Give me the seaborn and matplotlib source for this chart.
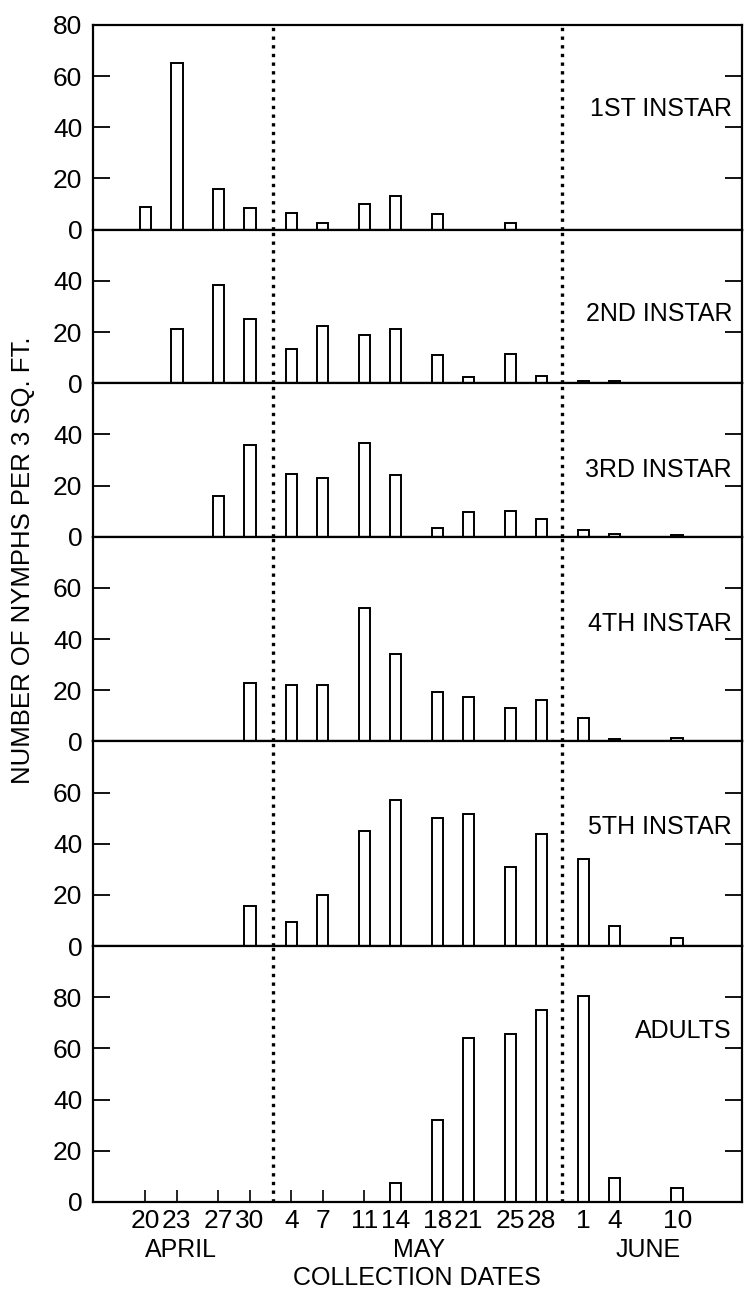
import numpy as np
import pandas as pd
import matplotlib
matplotlib.use('Agg')
import matplotlib.pyplot as plt
import seaborn as sns

# collection dates, counted in days from April 20
days = [0, 3, 7, 10, 14, 17, 21, 24, 28, 31, 35, 38, 42, 45, 51]
day_labels = ['20', '23', '27', '30', '4', '7', '11', '14', '18', '21', '25', '28', '1', '4', '10']

# nymphs per 3 sq. ft.
instar1 = [9, 65, 16, 8.5, 6.5, 2.5, 10, 13, 6, 0, 2.5, 0, 0, 0, 0]
instar2 = [0, 21, 38.5, 25, 13.5, 22.5, 19, 21, 11, 2.5, 11.5, 3, 1, 1, 0]
instar3 = [0, 0, 16, 36, 24.5, 23, 36.5, 24, 3.5, 9.5, 10, 7, 2.5, 1, 0.7]
instar4 = [0, 0, 0, 23, 22, 22, 52, 34, 19.5, 17.5, 13, 16, 9, 0.8, 1.5]
instar5 = [0, 0, 0, 15.5, 9.5, 20, 45, 57, 50, 51.5, 31, 44, 34, 8, 3]
adults = [0, 0, 0, 0, 0, 0, 0, 7.5, 32, 64, 65.5, 75, 80.5, 9.5, 5.5]

stages = ['1ST INSTAR', '2ND INSTAR', '3RD INSTAR', '4TH INSTAR', '5TH INSTAR', 'ADULTS']
series = [instar1, instar2, instar3, instar4, instar5, adults]
months = ['APRIL', 'MAY', 'JUNE']

df = pd.DataFrame({
    'day': days * len(stages),
    'count': np.concatenate(series),
    'stage': np.repeat(stages, len(days)),
})

# layout
ylims = [80, 60, 60, 80, 80, 100]
ytop_tick = [80, 40, 40, 60, 60, 80]
label_y = [47, 27, 26, 46, 46.5, 67]
month_x = [3.4, 26.2, 48.2]
month_lines = [12.2, 40.0]

sns.set_style('ticks', rc={'axes.edgecolor': 'black', 'text.color': 'black',
                           'xtick.color': 'black', 'ytick.color': 'black',
                           'axes.labelcolor': 'black'})
plt.rcParams['font.family'] = ['Liberation Sans', 'DejaVu Sans']

fig, axes = plt.subplots(len(stages), 1, figsize=(7.47, 12.93), dpi=100, sharex=True,
                         gridspec_kw={'height_ratios': ylims, 'hspace': 0})
fig.subplots_adjust(left=0.125, right=0.993, top=0.9807, bottom=0.0704)

for ax, stage, ymax, ytk, ly in zip(axes, stages, ylims, ytop_tick, label_y):
    sub = df[df['stage'] == stage]
    sns.barplot(data=sub, x='day', y='count', native_scale=True, width=0.37,
                color='white', saturation=1, edgecolor='black', linewidth=1.4,
                errorbar=None, ax=ax)
    for xv in month_lines:
        ax.axvline(xv, color='black', linestyle=(0, (1, 1.6)), linewidth=2.4)
    ax.set_ylim(0, ymax)
    ax.set_xlim(-5, 57.2)
    ax.set_yticks(np.arange(0, ytk + 1, 20))
    ax.set_xlabel('')
    ax.set_ylabel('')
    for s in ax.spines.values():
        s.set_visible(True)
        s.set_linewidth(1.6)
        s.set_color('black')
    ax.tick_params(axis='y', direction='in', left=True, right=True, length=12,
                   width=1.3, labelsize=19, pad=8, colors='black')
    ax.tick_params(axis='x', direction='in', bottom=True, top=False, length=9,
                   width=1.2, labelsize=19, pad=5, colors='black')
    ax.text(0.985, ly, stage, transform=ax.get_yaxis_transform(), ha='right',
            va='center', fontsize=18, color='black')

axes[-1].set_xticks(days)
axes[-1].set_xticklabels(day_labels)
for ax in axes[:-1]:
    ax.tick_params(axis='x', labelbottom=False, length=0)

for m, mx in zip(months, month_x):
    axes[-1].annotate(m, xy=(mx, 0), xycoords=('data', 'axes fraction'),
                      xytext=(0, -48), textcoords='offset pixels',
                      ha='center', va='center', fontsize=18, color='black')
axes[-1].annotate('COLLECTION DATES', xy=(26, 0), xycoords=('data', 'axes fraction'),
                  xytext=(0, -76), textcoords='offset pixels',
                  ha='center', va='center', fontsize=18, color='black')

fig.text(0.031, 0.567, 'NUMBER OF NYMPHS PER 3 SQ. FT.', rotation=90,
         ha='center', va='center', fontsize=18.5, color='black')

fig.savefig('out.png', dpi=100)
